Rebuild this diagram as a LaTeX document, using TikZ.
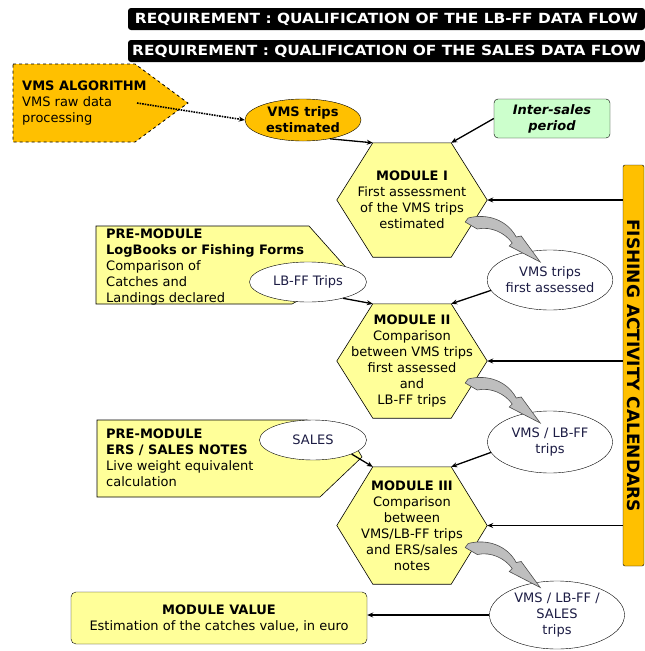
\documentclass[tikz,border=0pt]{standalone}
\usepackage{graphicx}
\usepackage{fontspec}
\setmainfont{DejaVu Sans}
\usetikzlibrary{arrows.meta,backgrounds,positioning,shapes.geometric}

\definecolor{vmsorange}{RGB}{255,192,0}
\definecolor{modyellow}{RGB}{255,255,153}
\definecolor{salesgreen}{RGB}{204,255,204}
\definecolor{flowgray}{RGB}{190,190,190}
\definecolor{tripblue}{RGB}{28,28,68}

\newcommand{\bodyfont}{\fontsize{13}{16}\selectfont}
\newcommand{\bannerfont}{\fontsize{14}{16}\selectfont\bfseries}

\begin{document}
\begin{tikzpicture}[x=1pt, y=-1pt, >={Stealth[length=6pt,width=5pt]},
        REQ/.style={fill=black, rounded corners=3pt, minimum width=517pt, minimum height=22pt, inner sep=0pt, text=white, font=\bannerfont},  % requirement banners
        ALG/.style={draw=black, dashed, thick, fill=vmsorange},
        TRIP/.style={ellipse, draw=black, fill=white, inner sep=0pt, align=center, font=\bodyfont, text=tripblue},
        MOD/.style={minimum width=150pt, minimum height=114pt, inner sep=0pt, align=center, font=\bodyfont},
        HEX/.style={draw=black, fill=modyellow, semithick},
        PRE/.style={draw=black, fill=modyellow, semithick},
        TXT/.style={anchor=north west, inner sep=0pt, align=left, font=\bodyfont},
        CAL/.style={draw=black, fill=vmsorange, rounded corners=2pt, minimum width=21pt, minimum height=401pt, inner sep=0pt, font=\fontsize{17}{17}\selectfont\bfseries},
        LINK/.style={->, line width=1.3pt},
        FLOW/.style={fill=flowgray, draw=black!70, line width=0.6pt},
    ]
        \useasboundingbox (0,0) rectangle (645,651);

        %Nodes
        \node[REQ] (ReqLB) at (386.5,19) {\scalebox{1.1}[1]{REQUIREMENT : QUALIFICATION OF THE LB-FF DATA FLOW}};
        \node[REQ] (ReqSales) at (386.5,51) {\scalebox{1.1}[1]{REQUIREMENT : QUALIFICATION OF THE SALES DATA FLOW}};

        \filldraw[ALG] (13,64) -- (135,64) -- (188,103) -- (135,142) -- (13,142) -- cycle;
        \node[TXT] (Algo) at (22,80.5) {\textbf{VMS ALGORITHM}\\VMS raw data\\processing};
        \coordinate (AlgoOut) at (137,103);

        \node[TRIP, fill=vmsorange, minimum width=116pt, minimum height=42pt, text=black, font=\bodyfont\bfseries] (VMSest) at (303,120) {VMS trips\\estimated};
        \node[draw=black, fill=salesgreen, rounded corners=4pt, minimum width=116pt, minimum height=39pt, align=center, font=\bodyfont\bfseries\itshape] (InterSales) at (552,118.5) {Inter-sales\\period};

        \node[MOD] (ModI) at (412,200) {\textbf{MODULE I}\\First assessment\\of the VMS trips\\estimated};
        \node[MOD] (ModII) at (412,361) {\textbf{MODULE II}\\Comparison\\between VMS trips\\first assessed\\and\\LB-FF trips};
        \node[MOD, minimum height=117pt] (ModIII) at (412,525.5) {\textbf{MODULE III}\\Comparison\\between\\VMS/LB-FF trips\\and ERS/sales\\notes};

        \node[CAL] (Calendars) at (633.5,365.5) {\rotatebox{-90}{FISHING ACTIVITY CALENDARS}};

        \filldraw[PRE] (96,226) -- (309,226) -- (350,272) -- (292,304) -- (96,304) -- cycle;
        \node[TXT] (PreLB) at (106,228.5) {\textbf{PRE-MODULE}\\\textbf{LogBooks or Fishing Forms}\\Comparison of\\Catches and\\Landings declared};
        \node[TRIP, minimum width=117pt, minimum height=40pt] (LBFF) at (308,282) {LB-FF Trips};

        \filldraw[PRE] (97,420) -- (307,420) -- (345,428) -- (362,457) -- (320,497) -- (97,497) -- cycle;
        \node[TXT] (PreERS) at (106,428.5) {\textbf{PRE-MODULE}\\\textbf{ERS / SALES NOTES}\\Live weight equivalent\\calculation};
        \node[TRIP, minimum width=107pt, minimum height=40pt] (Sales) at (313,440) {SALES};

        \node[TRIP, minimum width=125pt, minimum height=60pt] (VMSfirst) at (550,280) {VMS trips\\first assessed};
        \node[TRIP, minimum width=125pt, minimum height=62pt] (VMSLB) at (550,442) {VMS / LB-FF\\trips};
        \node[TRIP, minimum width=135pt, minimum height=68pt] (VMSLBS) at (557,615) {VMS / LB-FF /\\SALES\\trips};

        \node[draw=black, fill=modyellow, rounded corners=5pt, minimum width=296pt, minimum height=52pt, align=center, font=\bodyfont] (ModValue) at (219,618) {\textbf{MODULE VALUE}\\Estimation of the catches value, in euro};

        %Hexagons
        \begin{scope}[on background layer]
            \foreach \m in {ModI,ModII,ModIII}
                \filldraw[HEX] (\m.west) -- ([xshift=36pt]\m.north west) -- ([xshift=-36pt]\m.north east) -- (\m.east) -- ([xshift=-36pt]\m.south east) -- ([xshift=36pt]\m.south west) -- cycle;
        \end{scope}

        %Lines
        \draw[->, line width=1.6pt, densely dotted] (AlgoOut) -- (VMSest.west);
        \draw[LINK] (VMSest.-35) -- ([xshift=36pt]ModI.north west);
        \draw[LINK] (InterSales.west) -- ([xshift=-36pt]ModI.north east);
        \draw[LINK] (LBFF.-25) -- ([xshift=36pt]ModII.north west);
        \draw[LINK] (VMSfirst.190) -- ([xshift=-36pt]ModII.north east);
        \draw[LINK] (Sales.-20) -- ([xshift=36pt]ModIII.north west);
        \draw[LINK] (VMSLB.190) -- ([xshift=-36pt]ModIII.north east);
        \draw[LINK] (VMSLBS.west) -- (VMSLBS.west -| ModValue.east);
        \foreach \m in {ModI,ModII,ModIII}
            \draw[LINK] (Calendars.west |- \m.east) -- (\m.east);

        % curved gray arrows from each module to its output trips
        \foreach \m in {ModI,ModII,ModIII}
            \filldraw[FLOW, shift={(\m.east)}] (-22,22) -- (-19,18) .. controls (0,13) and (20,20) .. (29,37) -- (34,36) -- (53,62) -- (22,46) -- (25,43) .. controls (18,33) and (4,26) .. (-10,29) -- cycle;
    \end{tikzpicture}
\end{document}
